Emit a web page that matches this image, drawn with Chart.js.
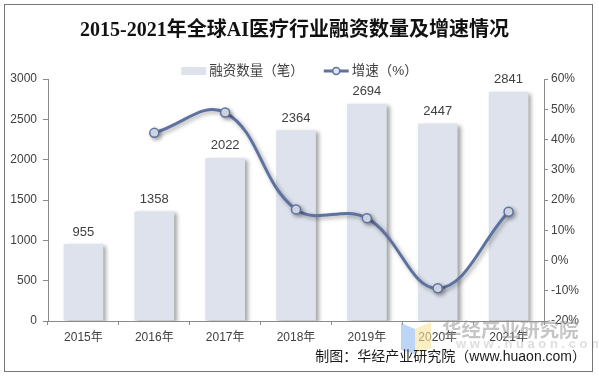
<!DOCTYPE html>
<html>
<head>
<meta charset="utf-8">
<script src="https://cdn.jsdelivr.net/npm/chart.js@4.4.0/dist/chart.umd.min.js"></script>
<style>
  html, body { margin: 0; padding: 0; background: #fff; }
  #wrap { width: 599px; height: 377px; position: relative; }
</style>
</head>
<body>
<div id="wrap"><canvas id="fundChart" width="599" height="377"></canvas></div>
<script>
// 数据
const years = ["2015年", "2016年", "2017年", "2018年", "2019年", "2020年", "2021年"];
const dealCounts = [955, 1358, 2022, 2364, 2694, 2447, 2841];
const growthRates = [null, 42.2, 48.9, 16.9, 14.0, -9.2, 16.1];
const leftTicks = [0, 500, 1000, 1500, 2000, 2500, 3000];
const rightTicks = [-20, -10, 0, 10, 20, 30, 40, 50, 60];

const barColor = "#dde2ec";
const lineColor = "#5e72a1";
const axisColor = "#8a8a8a";
const textColor = "#404040";
const sansFont = "'Liberation Sans', 'Noto Sans CJK SC', sans-serif";

// 柱子和折线的阴影
const shadowPlugin = {
  id: "shadow",
  beforeDatasetDraw(chart, args) {
    const ctx = chart.ctx;
    ctx.save();
    ctx.shadowColor = "rgba(0,0,0,0.35)";
    ctx.shadowBlur = 4;
    ctx.shadowOffsetX = args.index === 0 ? 3 : 2;
    ctx.shadowOffsetY = 2;
  },
  afterDatasetDraw(chart) {
    chart.ctx.restore();
  }
};

// 柱子上方的数值
const barLabelPlugin = {
  id: "barLabels",
  afterDatasetsDraw(chart) {
    const ctx = chart.ctx;
    const meta = chart.getDatasetMeta(0);
    ctx.save();
    ctx.font = "13px " + sansFont;
    ctx.fillStyle = textColor;
    ctx.textAlign = "center";
    ctx.textBaseline = "middle";
    meta.data.forEach((bar, i) => {
      ctx.fillText(String(dealCounts[i]), bar.x, bar.y - 12);
    });
    ctx.restore();
  }
};

// 图例、来源、水印和边框
const decorPlugin = {
  id: "decor",
  afterDraw(chart) {
    const ctx = chart.ctx;
    const W = chart.width;
    ctx.save();

    // 图例
    ctx.font = "13.5px " + sansFont;
    ctx.textBaseline = "middle";
    const t1 = "融资数量（笔）";
    const t2 = "增速（%）";
    const w1 = ctx.measureText(t1).width;
    const w2 = ctx.measureText(t2).width;
    const sw = 25, gap = 3, itemGap = 20;
    const total = sw + gap + w1 + itemGap + sw + gap + w2;
    let x = (W - total) / 2;
    const ly = 71;
    ctx.fillStyle = barColor;
    ctx.fillRect(x, ly - 4, sw, 8);
    x += sw + gap;
    ctx.fillStyle = textColor;
    ctx.fillText(t1, x, ly);
    x += w1 + itemGap;
    ctx.strokeStyle = lineColor;
    ctx.lineWidth = 3;
    ctx.beginPath();
    ctx.moveTo(x, ly);
    ctx.lineTo(x + sw, ly);
    ctx.stroke();
    ctx.beginPath();
    ctx.arc(x + sw / 2, ly, 3.5, 0, Math.PI * 2);
    ctx.fillStyle = "#dfe6f2";
    ctx.fill();
    ctx.lineWidth = 1.5;
    ctx.stroke();
    x += sw + gap;
    ctx.fillStyle = textColor;
    ctx.fillText(t2, x, ly);

    // 水印 logo
    ctx.globalAlpha = 0.6;
    ctx.fillStyle = "#8fb8f0";
    ctx.beginPath();
    ctx.moveTo(401, 323); ctx.lineTo(415, 329); ctx.lineTo(415, 354); ctx.lineTo(401, 350);
    ctx.closePath(); ctx.fill();
    ctx.fillStyle = "#f7e39a";
    ctx.beginPath();
    ctx.moveTo(415, 329); ctx.lineTo(431, 322); ctx.lineTo(431, 348); ctx.lineTo(415, 354);
    ctx.closePath(); ctx.fill();

    // 水印文字
    ctx.globalAlpha = 1;
    ctx.fillStyle = "rgba(150,150,150,0.55)";
    ctx.font = "bold 19.5px 'Noto Sans CJK SC', sans-serif";
    ctx.textAlign = "left";
    ctx.fillText("华经产业研究院", 442, 330);
    ctx.fillStyle = "rgba(190,190,190,0.5)";
    ctx.font = "bold 13px " + sansFont;
    ctx.fillText("w w w . h u a o n . c o m", 456, 344);

    // 来源
    ctx.fillStyle = "#1a1a1a";
    ctx.font = "14px " + sansFont;
    ctx.textAlign = "right";
    ctx.fillText("制图：华经产业研究院（www.huaon.com）", 586, 357);

    // 边框
    ctx.strokeStyle = "#767676";
    ctx.lineWidth = 1;
    ctx.strokeRect(4.5, 4.5, 588, 367);
    ctx.restore();
  }
};

function renderChart() {
  const ctx = document.getElementById("fundChart").getContext("2d");
  new Chart(ctx, {
    data: {
      labels: years,
      datasets: [
        {
          type: "bar",
          label: "融资数量（笔）",
          data: dealCounts,
          backgroundColor: barColor,
          borderWidth: 0,
          barPercentage: 0.56,
          categoryPercentage: 1,
          yAxisID: "y",
          order: 1
        },
        {
          type: "line",
          label: "增速（%）",
          data: growthRates,
          borderColor: lineColor,
          borderWidth: 3,
          tension: 0.4,
          pointRadius: 4.5,
          pointBorderWidth: 1.5,
          pointBackgroundColor: "#dfe6f2",
          pointBorderColor: lineColor,
          yAxisID: "y1",
          order: 0
        }
      ]
    },
    options: {
      responsive: false,
      animation: false,
      layout: { padding: { left: 10, right: 20, bottom: 28, top: 0 } },
      plugins: {
        legend: { display: false },
        tooltip: { enabled: false },
        title: {
          display: true,
          text: "2015-2021年全球AI医疗行业融资数量及增速情况",
          color: "#111",
          font: { family: "'Liberation Serif', 'Noto Sans CJK SC', serif", size: 20, weight: "bold" },
          padding: { top: 19, bottom: 36 }
        }
      },
      scales: {
        x: {
          offset: true,
          grid: { drawOnChartArea: false, color: axisColor, tickLength: 4, offset: true },
          border: { color: axisColor },
          ticks: { color: textColor, padding: 5, font: { size: 12, family: sansFont } },
          afterFit: (s) => { s.height = 28; }
        },
        y: {
          position: "left",
          min: leftTicks[0],
          max: leftTicks[leftTicks.length - 1],
          afterBuildTicks: (s) => { s.ticks = leftTicks.map((v) => ({ value: v })); },
          grid: { drawOnChartArea: false, color: axisColor, tickLength: 5 },
          border: { color: axisColor },
          ticks: {
            color: textColor,
            padding: 6,
            font: { size: 12, family: sansFont },
            callback: (v) => String(v)
          },
          afterFit: (s) => { s.width = 38; }
        },
        y1: {
          position: "right",
          min: rightTicks[0],
          max: rightTicks[rightTicks.length - 1],
          afterBuildTicks: (s) => { s.ticks = rightTicks.map((v) => ({ value: v })); },
          grid: { drawOnChartArea: false, color: axisColor, tickLength: 4 },
          border: { color: axisColor },
          ticks: {
            color: textColor,
            padding: 3,
            font: { size: 12, family: sansFont },
            callback: (v) => v + "%"
          },
          afterFit: (s) => { s.width = 35; }
        }
      }
    },
    plugins: [shadowPlugin, barLabelPlugin, decorPlugin]
  });
}

document.addEventListener("DOMContentLoaded", () => {
  renderChart();
});
</script>
</body>
</html>
